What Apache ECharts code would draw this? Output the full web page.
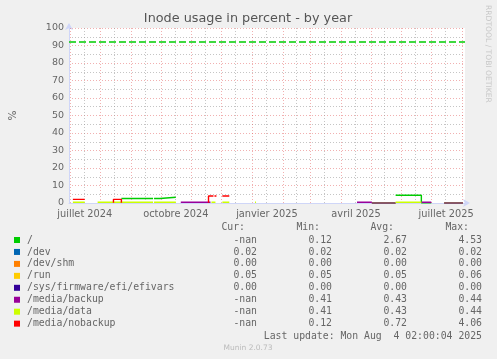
<!DOCTYPE html>
<html><head><meta charset="utf-8">
<script src="https://cdn.jsdelivr.net/npm/echarts@6/dist/echarts.min.js"></script>
<style>html,body{margin:0;padding:0;background:#f0f0f0;}#c{width:497px;height:359px;}</style>
</head><body><div id="c"></div>
<script>
// ---------- data ----------
const chartTitle = 'Inode usage in percent - by year';
const yAxisTitle = '%';
const startTime = '2024-06-30 02:00';
const endTime = '2025-08-04 02:00';
const xLabelDates = ['2024-07-16', '2024-10-16', '2025-01-16', '2025-04-16', '2025-07-16'];
const xLabelTexts = ['juillet 2024', 'octobre 2024', 'janvier 2025', 'avril 2025', 'juillet 2025'];
const monthStarts = ['2024-07-01', '2024-08-01', '2024-09-01', '2024-10-01', '2024-11-01', '2024-12-01',
  '2025-01-01', '2025-02-01', '2025-03-01', '2025-04-01', '2025-05-01', '2025-06-01', '2025-07-01', '2025-08-01'];
const midMonths = ['2024-07-15', '2024-08-15', '2024-09-15', '2024-10-15', '2024-11-15', '2024-12-15',
  '2025-01-15', '2025-02-15', '2025-03-15', '2025-04-15', '2025-05-15', '2025-06-15', '2025-07-15'];
const yMin = 0, yMax = 100, yStep = 10;
const warningLevel = 92;

const names = ['/', '/dev', '/dev/shm', '/run', '/sys/firmware/efi/efivars', '/media/backup', '/media/data', '/media/nobackup'];
const colors = ['#00cc00', '#0066b3', '#ff8000', '#ffcc00', '#330099', '#990099', '#ccff00', '#ff0000'];
const curValues = ['-nan', '0.02', '0.00', '0.05', '0.00', '-nan', '-nan', '-nan'];
const minValues = ['0.12', '0.02', '0.00', '0.05', '0.00', '0.41', '0.41', '0.12'];
const avgValues = ['2.67', '0.02', '0.00', '0.05', '0.00', '0.43', '0.43', '0.72'];
const maxValues = ['4.53', '0.02', '0.00', '0.06', '0.00', '0.44', '0.44', '4.06'];
const lastUpdate = 'Last update: Mon Aug  4 02:00:04 2025';
const footer = 'Munin 2.0.73';
const watermark = 'RRDTOOL / TOBI OETIKER';

const rootData = [
  ['2024-08-22', 2.6], ['2024-09-23', 2.6], ['2024-09-23 12:00', null],
  ['2024-09-24', 2.6], ['2024-09-30', 2.6], ['2024-09-30', 3.3], ['2024-10-16', 3.3], ['2024-10-17', null],
  ['2025-05-26', 4.4], ['2025-06-21', 4.4], ['2025-06-21', 0.12], ['2025-07-01', 0.12]
];
const devData = [['2025-05-02', 0.02], ['2025-05-26', 0.02], ['2025-05-27', null], ['2025-07-14', 0.02], ['2025-08-02', 0.02]];
const shmData = [['2025-05-02', 0.00], ['2025-05-26', 0.00], ['2025-05-27', null], ['2025-07-14', 0.00], ['2025-08-02', 0.00]];
const runData = [['2025-05-02', 0.05], ['2025-05-26', 0.05], ['2025-05-27', null], ['2025-07-14', 0.06], ['2025-08-02', 0.05]];
const efivarsData = [['2025-05-02', 0.00], ['2025-05-26', 0.00], ['2025-05-27', null], ['2025-07-14', 0.00], ['2025-08-02', 0.00]];
const backupData = [
  ['2024-10-21', 0.43], ['2024-11-20', 0.43], ['2024-11-21', null],
  ['2025-04-17', 0.43], ['2025-05-02', 0.43], ['2025-05-03', null],
  ['2025-06-21', 0.43], ['2025-07-01', 0.43]
];
const dataData = [
  ['2024-07-04', 0.43], ['2024-07-16', 0.43], ['2024-07-17', null],
  ['2024-07-29', 0.43], ['2024-09-23', 0.43], ['2024-09-23 12:00', null],
  ['2024-09-24', 0.43], ['2024-10-16', 0.43], ['2024-10-17', null],
  ['2024-11-21', 0.43], ['2024-11-25', 0.43], ['2024-11-26', null],
  ['2024-12-02', 0.43], ['2024-12-09', 0.43], ['2024-12-10', null],
  ['2025-01-04', 0.43], ['2025-01-05', 0.43], ['2025-01-06', null],
  ['2025-05-26', 0.43], ['2025-06-21', 0.43]
];
const nobackupData = [
  ['2024-07-04', 2.1], ['2024-07-16', 2.1], ['2024-07-17', null],
  ['2024-08-14', 0.12], ['2024-08-14', 2.1], ['2024-08-22', 2.1], ['2024-08-22', 0.12], ['2024-08-23', null],
  ['2024-11-18', 0.12], ['2024-11-18', 4.0], ['2024-11-23', 4.0], ['2024-11-23 12:00', null],
  ['2024-11-24', 4.0], ['2024-11-26', 4.0], ['2024-11-27', null],
  ['2024-12-02', 4.0], ['2024-12-09', 4.0]
];
const seriesData = [rootData, devData, shmData, runData, efivarsData, backupData, dataData, nobackupData];

// ---------- chart ----------
const T = s => echarts.time.parse(s).getTime();
const chart = echarts.init(document.getElementById('c'), null, {renderer: 'canvas'});
const txtColor = '#666';
const gridL = 65, gridT = 28, gridW = 400, gridH = 175;
const minorGridColor = 'rgba(150,150,150,0.55)';
const majorGridColor = 'rgba(225,80,80,0.45)';

const series = seriesData.map((d, i) => ({
  name: names[i], type: 'line', data: d.map(p => [T(p[0]), p[1]]),
  showSymbol: false, symbol: 'none', connectNulls: false, clip: false, animation: false,
  lineStyle: {color: colors[i], width: (i >= 1 && i <= 4) ? 1 : 1.4}, z: 3 + i,
  markLine: i === 0 ? {
    silent: true, symbol: 'none', animation: false, label: {show: false},
    lineStyle: {color: '#00cc00', type: [7, 3], width: 1.5},
    data: [{yAxis: warningLevel}]
  } : undefined
}));
series.unshift({
  type: 'line', data: [], z: 1, silent: true, animation: false,
  markLine: {
    silent: true, symbol: 'none', animation: false, label: {show: false},
    data: midMonths.map(d => ({xAxis: T(d), lineStyle: {color: minorGridColor, type: [1, 2], width: 1}}))
      .concat(monthStarts.map(d => ({xAxis: T(d), lineStyle: {color: majorGridColor, type: [1, 2], width: 1}})))
  }
});

const legendEls = [];
const rowY = i => 240 + 11.95 * i;
const mono = 'DejaVu Sans Mono';
const lfs = 9.8;
[['Cur:', 245], ['Min:', 320], ['Avg:', 394], ['Max:', 469]].forEach(h => legendEls.push({
  type: 'text', x: h[1], y: 227, style: {text: h[0], font: lfs + 'px ' + mono, fill: txtColor, textAlign: 'right', textVerticalAlign: 'middle'}
}));
names.forEach((n, i) => {
  legendEls.push({type: 'rect', shape: {x: 14, y: rowY(i) - 3, width: 6, height: 6}, style: {fill: colors[i]}});
  legendEls.push({type: 'text', x: 27, y: rowY(i), style: {text: n, font: lfs + 'px ' + mono, fill: txtColor, textVerticalAlign: 'middle'}});
  [[curValues, 257], [minValues, 332], [avgValues, 407], [maxValues, 482]].forEach(c => legendEls.push({
    type: 'text', x: c[1], y: rowY(i), style: {text: c[0][i], font: lfs + 'px ' + mono, fill: txtColor, textAlign: 'right', textVerticalAlign: 'middle'}
  }));
});
legendEls.push({type: 'text', x: 482, y: 336.7, style: {text: lastUpdate, font: lfs + 'px ' + mono, fill: txtColor, textAlign: 'right', textVerticalAlign: 'middle'}});
legendEls.push({type: 'text', x: 248, y: 348, style: {text: footer, font: '7.5px DejaVu Sans', fill: '#bbb', textAlign: 'center', textVerticalAlign: 'middle'}});
legendEls.push({type: 'text', x: 488, y: 5, rotation: -Math.PI / 2, style: {text: watermark, font: '7.6px DejaVu Sans', fill: '#c8c8c8', textAlign: 'left', textVerticalAlign: 'middle'}});
legendEls.push({type: 'text', x: 248, y: 19, style: {text: chartTitle, font: '12.8px DejaVu Sans', fill: '#555', textAlign: 'center', textVerticalAlign: 'middle'}});

chart.setOption({
  backgroundColor: '#f0f0f0',
  animation: false,
  grid: {left: gridL, top: gridT, width: gridW, height: gridH, show: true, backgroundColor: '#fff', borderWidth: 0},
  xAxis: {
    type: 'value', min: T(startTime), max: T(endTime), scale: true,
    axisLine: {show: true, lineStyle: {color: '#cfd6f8', width: 1}, symbol: ['none', 'arrow'], symbolSize: [6, 7], symbolOffset: [0, 5]},
    axisTick: {show: false},
    splitLine: {show: false},
    axisLabel: {
      customValues: xLabelDates.map(T), color: txtColor, fontFamily: 'DejaVu Sans', fontSize: 9.8, margin: 6,
      hideOverlap: false, showMinLabel: true, showMaxLabel: true,
      formatter: v => {
        let best = 0, bd = Infinity;
        xLabelDates.forEach((d, i) => { const dd = Math.abs(T(d) - v); if (dd < bd) { bd = dd; best = i; } });
        return xLabelTexts[best];
      }
    }
  },
  yAxis: {
    type: 'value', min: yMin, max: yMax, interval: yStep,
    name: yAxisTitle, nameLocation: 'middle', nameRotate: 90, nameGap: 50,
    nameTextStyle: {color: txtColor, fontFamily: 'DejaVu Sans', fontSize: 10.5},
    axisLine: {show: true, lineStyle: {color: '#cfd6f8', width: 1}, symbol: ['none', 'arrow'], symbolSize: [6, 7], symbolOffset: [0, 5]},
    axisTick: {show: false},
    axisLabel: {color: txtColor, fontFamily: 'DejaVu Sans', fontSize: 9.5, margin: 5},
    splitLine: {show: true, lineStyle: {color: majorGridColor, type: [1, 2], width: 1}},
    minorTick: {show: false, splitNumber: 2},
    minorSplitLine: {show: true, lineStyle: {color: minorGridColor, type: [1, 2], width: 1}}
  },
  graphic: legendEls,
  series: series
});
</script></body></html>
